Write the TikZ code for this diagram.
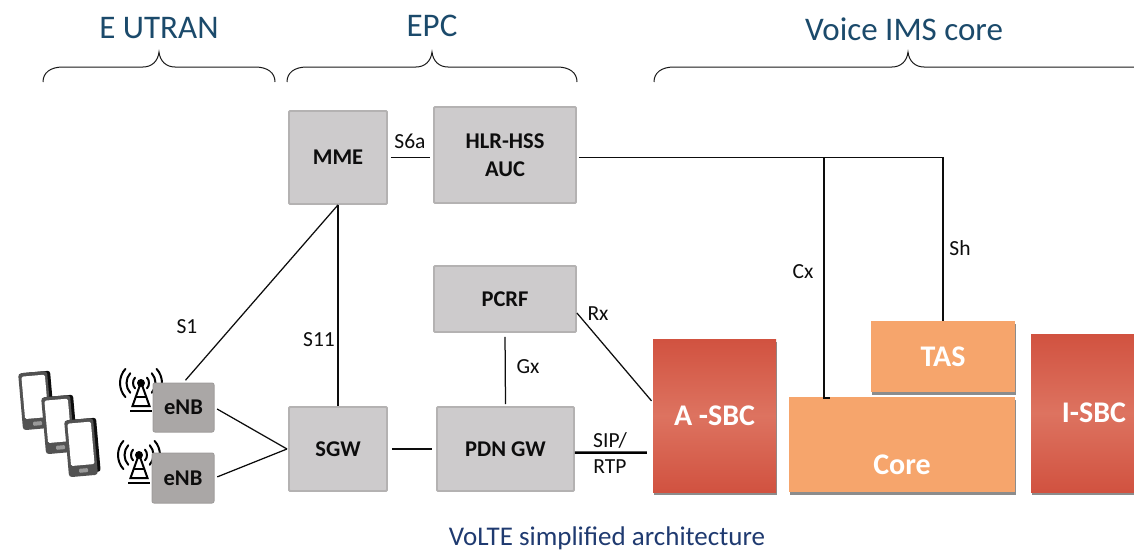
\documentclass[tikz,border=0pt]{standalone}
\usepackage{fontspec}
\setmainfont{Carlito}
\usetikzlibrary{shadows,calc}
\definecolor{boxgray}{HTML}{CDCBCC}
\definecolor{boxedge}{HTML}{B4B2B2}
\definecolor{enbgray}{HTML}{AAA7A6}
\definecolor{enbedge}{HTML}{A09D9C}
\definecolor{orangebox}{HTML}{F6A56C}
\definecolor{redend}{HTML}{D15240}
\definecolor{redmid}{HTML}{DD7360}
\definecolor{titleblue}{HTML}{1B4A6B}
\definecolor{capblue}{HTML}{1F3A70}
\newcommand{\fs}[1]{\fontsize{#1}{#1}\selectfont}
\tikzset{
  x=1pt,y=-1pt,
  graybox/.style={draw=boxedge,line width=1.8pt,fill=boxgray,rounded corners=1pt,inner sep=0pt,align=center,font=\fs{22.5}\bfseries,text=black!95},
  enbbox/.style={draw=enbedge,line width=1pt,fill=enbgray,rounded corners=2pt,inner sep=0pt,font=\fs{22.5}\bfseries,text=black!95},
  orangenode/.style={fill=orangebox,inner sep=0pt,drop shadow={shadow xshift=1pt,shadow yshift=-2.5pt,opacity=.45,fill=black}},
  rednode/.style={top color=redend,bottom color=redend,middle color=redmid,inner sep=0pt,font=\fs{30}\bfseries,text=white,drop shadow={shadow xshift=1pt,shadow yshift=-2.5pt,opacity=.45,fill=black}},
  boxtext/.style={font=\fs{30}\bfseries,text=white,inner sep=0pt},
  link/.style={draw=black!95,line width=1.25pt},
  thicklink/.style={draw=black,line width=2.6pt},
  iflabel/.style={font=\fs{21.5},text=black!95,inner sep=0pt},
  titletext/.style={font=\fs{33},text=titleblue,inner sep=0pt},
  brace/.style={draw=black!90,line width=1pt},
}
\newcommand{\boxat}[7]{% name, x0, y0, x1, y1, style, text
  \node[#6,minimum width=#4pt-#2pt,minimum height=#5pt-#3pt] (#1) at ({(#2+#4)/2},{(#3+#5)/2}) {#7};}
\newcommand{\bracepath}[3]{% left, tip, right
  \draw[brace] (#1,82) .. controls (#1,73) and (#1+7,67) .. (#1+20,67)
    -- (#2-16,67) .. controls (#2-7,67) and (#2-1,61) .. (#2,52)
    .. controls (#2+1,61) and (#2+7,67) .. (#2+16,67) -- (#3-20,67)
    .. controls (#3-7,67) and (#3,73) .. (#3,82);}
\newcommand{\antenna}[2]{%
  \begin{scope}[shift={(#1,#2)}]
    \fill[black] (0,0) circle (4);
    \draw[black,line width=2pt,line join=miter] (-1,2) -- (-8.5,23) -- (8.5,23) -- (1,2);
    \draw[black,line width=1.6pt] (-5.5,14) -- (5.5,14);
    \draw[black,line width=2.6pt] (-11,28) -- (11,28);
    \foreach \r in {8,14.5,21}{
      \draw[black,line width=2pt,line cap=round] (\r,0) arc[start angle=0,end angle=42,radius=\r];
      \draw[black,line width=2pt,line cap=round] (\r,0) arc[start angle=0,end angle=-42,radius=\r];
      \draw[black,line width=2pt,line cap=round] (-\r,0) arc[start angle=180,end angle=138,radius=\r];
      \draw[black,line width=2pt,line cap=round] (-\r,0) arc[start angle=180,end angle=222,radius=\r];
    }
  \end{scope}}
\newcommand{\phone}[2]{%
  \begin{scope}[shift={(#1,#2)},rotate=5]
    \fill[black!95,rounded corners=2.5pt] (-13,-28) rectangle (16.5,26);
    \fill[black!68,rounded corners=3pt] (-15.5,-28) rectangle (13.5,29);
    \fill[white,rounded corners=1.5pt] (-12.5,-24.5) rectangle (11,18);
    \fill[black!40,rounded corners=1pt] (-5,21.5) rectangle (4,25.5);
  \end{scope}}
\begin{document}
\begin{tikzpicture}
\useasboundingbox (0,0) rectangle (1134,551);
\clip (0,0) rectangle (1134,551);
% titles
\node[titletext] (t1) at (159,28) {E UTRAN};
\node[titletext] (t2) at (432,26) {EPC};
\node[titletext] (t3) at (904,29) {Voice IMS core};
\bracepath{43}{159}{275}
\bracepath{287}{432}{577}
\draw[brace] (654,82) .. controls (654,73) and (661,67) .. (674,67)
  -- (892,67) .. controls (901,67) and (907,61) .. (908,52)
  .. controls (909,61) and (915,67) .. (924,67) -- (1134,67);
% phones
\phone{36}{400}
\phone{59}{424}
\phone{82}{447}
% antennas
\antenna{141}{383}
\antenna{139}{455}
% boxes
\boxat{enba}{153}{383}{214}{432}{enbbox}{eNB}
\boxat{enbb}{152}{453}{214}{503}{enbbox}{eNB}
\boxat{mme}{289}{111}{387}{204}{graybox}{MME}
\boxat{hlr}{434}{107}{576}{203}{graybox}{HLR-HSS\\[6pt]AUC}
\boxat{pcrf}{434}{266}{576}{332}{graybox}{PCRF}
\boxat{sgw}{289}{407}{387}{491}{graybox}{SGW}
\boxat{pdn}{437}{407}{574}{491}{graybox}{PDN GW}
\boxat{asbc}{653}{339}{776}{492}{rednode}{A -SBC}
\boxat{isbc}{1031}{334}{1157}{492}{rednode}{I-SBC}
\boxat{core}{789}{397}{1015}{492}{orangenode}{}
\boxat{tas}{871}{321}{1015}{392}{orangenode,boxtext}{TAS}
\node[boxtext] (corelabel) at (902,465) {Core};
% connectors
\coordinate (join) at (287,449);
\coordinate (shj) at (943,157.5);
\coordinate (cxj) at (824,157.5);
\coordinate (cxb) at (824,398);
\coordinate (cxe) at (830,398);
\draw[link,shorten <=3pt,shorten >=3pt] (mme.east) -- (hlr.west |- mme.east);
\draw[link,shorten <=3pt] (enba.north) -- (mme.south);
\draw[link] (mme.south) -- (sgw.north);
\draw[link,shorten <=3pt] (enba.east) -- (join);
\draw[link,shorten <=3pt] (enbb.east) -- (join);
\draw[link,shorten <=4pt,shorten >=4pt] (sgw.east) -- (pdn.west);
\draw[link,shorten <=4pt,shorten >=2pt] (pcrf.south) -- (pdn.north);
\draw[link,shorten >=2pt] (pcrf.-11) -- (asbc.168);
\draw[thicklink,shorten >=6pt] (pdn.-3) -- (asbc.211.4);
\draw[link,shorten <=2pt] (hlr.east |- shj) -- (shj) -- (tas.north);
\draw[link] (cxj) -- (cxb) -- (cxe);
% labels
\node[iflabel] (l1) at (410,141) {S6a};
\node[iflabel] (l2) at (187,327) {S1};
\node[iflabel] (l3) at (319,340) {S11};
\node[iflabel] (l4) at (598,314) {Rx};
\node[iflabel] (l5) at (528,367) {Gx};
\node[iflabel] (l6) at (610,440) {SIP/};
\node[iflabel] (l7) at (610,467) {RTP};
\node[iflabel] (l8) at (803,272) {Cx};
\node[iflabel] (l9) at (960,248) {Sh};
\node[font=\fs{27},text=capblue,inner sep=0pt] (cap) at (607,538.5) {VoLTE simplified architecture};
\end{tikzpicture}
\end{document}
